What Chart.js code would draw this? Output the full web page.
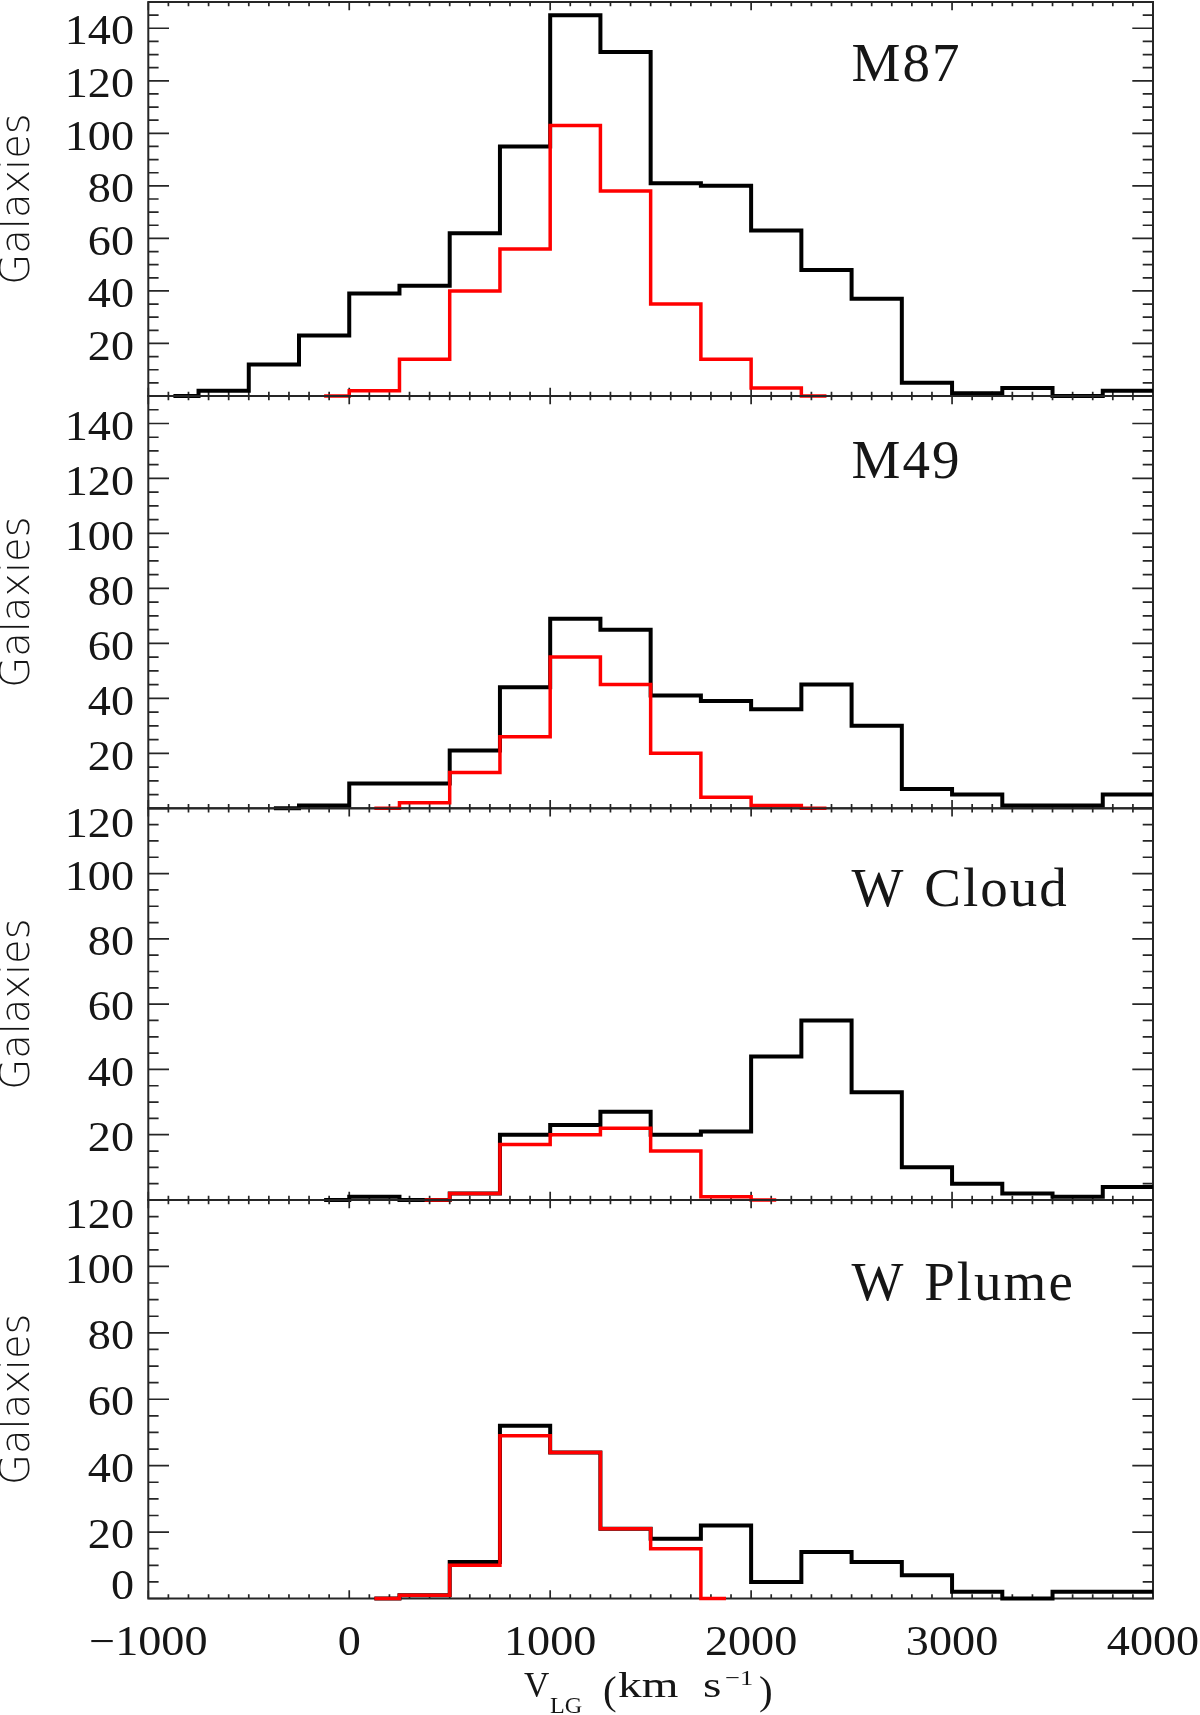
<!DOCTYPE html>
<html>
<head>
<meta charset="utf-8">
<script src="https://cdn.jsdelivr.net/npm/chart.js@4.4.1/dist/chart.umd.min.js"></script>
<style>
  html, body { margin: 0; padding: 0; background: #ffffff; }
  #wrap { position: relative; width: 1200px; height: 1715px; overflow: hidden; background: #ffffff; }
  #wrap canvas { position: absolute; left: 0; top: 0; }
</style>
</head>
<body>
<div id="wrap">
  <canvas id="c1" width="1200" height="1715"></canvas>
  <canvas id="c2" width="1200" height="1715"></canvas>
  <canvas id="c3" width="1200" height="1715"></canvas>
  <canvas id="c4" width="1200" height="1715"></canvas>
</div>
<script>
// ---------------- DATA ----------------
// histogram bin centres (km/s), bin width 250
const binCenters = [-875, -625, -375, -125, 125, 375, 625, 875, 1125, 1375, 1625, 1875, 2125, 2375, 2625, 2875, 3125, 3375, 3625, 3875, 4125];

// black = all galaxies, red = subsample
const m87All    = [0, 2, 12, 23, 39, 42, 62, 95, 145, 131, 81, 80, 63, 48, 37, 5, 1, 3, 0, 2, 2];
const m87Sub    = [null, null, null, 0, 2, 14, 40, 56, 103, 78, 35, 14, 3, 0, null, null, null, null, null, null, null];

const m49All    = [null, null, 0, 1, 9, 9, 21, 44, 69, 65, 41, 39, 36, 45, 30, 7, 5, 1, 1, 5, 5];
const m49Sub    = [null, null, null, null, 0, 2, 13, 26, 55, 45, 20, 4, 1, 0, null, null, null, null, null, null, null];

const wCloudAll = [null, null, null, 0, 1, 0, 2, 20, 23, 27, 20, 21, 44, 55, 33, 10, 5, 2, 1, 4, 4];
const wCloudSub = [null, null, null, null, null, 0, 2, 17, 20, 22, 15, 1, 0, null, null, null, null, null, null, null, null];

const wPlumeAll = [null, null, null, null, 0, 1, 11, 52, 44, 21, 18, 22, 5, 14, 11, 7, 2, 0, 2, 2, 2];
const wPlumeSub = [null, null, null, null, 0, 1, 10, 49, 44, 21, 15, 0, null, null, null, null, null, null, null, null, null];

const panelNames = ['M87', 'M49', 'W Cloud', 'W Plume'];

// tick labels
const xTickLabels = [-1000, 0, 1000, 2000, 3000, 4000];
const yTickLabels150 = [20, 40, 60, 80, 100, 120, 140];
const yTickLabels120 = [20, 40, 60, 80, 100, 120];
const yTickLabels120Zero = [0, 20, 40, 60, 80, 100, 120];

const yAxisTitle = 'Galaxies';

// ---------------- STYLE / LAYOUT ----------------
const W = 1200, H = 1715;
const PLOT_LEFT = 148.3, PLOT_RIGHT = 1153;
const X_MIN = -1000, X_MAX = 4000, X_MAJOR = 1000, X_MINOR = 100;
const Y_MAJOR = 20, Y_MINOR = 5;
const AXIS_COLOR = '#262626';
const TEXT_COLOR = '#161616';
const SERIF = '"Liberation Serif", "DejaVu Serif", serif';
const DIGIT_H = 28.4;

const panels = [
  { id: 'c1', top: 2,     bottom: 396,    ymax: 150, yLabels: yTickLabels150,     all: m87All,    sub: m87Sub,    name: panelNames[0], nameAt: [2500, 120] },
  { id: 'c2', top: 396,   bottom: 808.3,  ymax: 150, yLabels: yTickLabels150,     all: m49All,    sub: m49Sub,    name: panelNames[1], nameAt: [2500, 120] },
  { id: 'c3', top: 808.3, bottom: 1200,   ymax: 120, yLabels: yTickLabels120,     all: wCloudAll, sub: wCloudSub, name: panelNames[2], nameAt: [2500, 90] },
  { id: 'c4', top: 1200,  bottom: 1598.5, ymax: 120, yLabels: yTickLabels120Zero, all: wPlumeAll, sub: wPlumeSub, name: panelNames[3], nameAt: [2500, 90], xLabels: true }
];

function fmtX(v) { return v < 0 ? '\u2212' + String(-v) : String(v); }

function stretchedText(ctx, text, x, y, sx, align) {
  ctx.save();
  ctx.translate(x, y);
  ctx.scale(sx, 1);
  ctx.textAlign = align;
  ctx.fillText(text, 0, 0);
  ctx.restore();
}

function makeAxesPlugin(cfg) {
  return {
    id: 'idlAxes',
    beforeDatasetsDraw(chart) {
      const ctx = chart.ctx;
      const a = chart.chartArea;
      const xs = chart.scales.x, ys = chart.scales.y;
      ctx.save();
      // ticks (inward, IDL style)
      ctx.strokeStyle = AXIS_COLOR;
      ctx.lineWidth = 1.7;
      ctx.lineCap = 'butt';
      ctx.beginPath();
      for (let v = X_MIN; v <= X_MAX; v += X_MINOR) {
        const px = xs.getPixelForValue(v);
        const len = (Math.abs(v) % X_MAJOR === 0) ? 8.3 : 4.2;
        ctx.moveTo(px, a.bottom); ctx.lineTo(px, a.bottom - len);
        ctx.moveTo(px, a.top);    ctx.lineTo(px, a.top + len);
      }
      for (let v = 0; v <= cfg.ymax; v += Y_MINOR) {
        const py = ys.getPixelForValue(v);
        const len = (v % Y_MAJOR === 0) ? 20.7 : 10.3;
        ctx.moveTo(a.left, py);  ctx.lineTo(a.left + len, py);
        ctx.moveTo(a.right, py); ctx.lineTo(a.right - len, py);
      }
      ctx.stroke();
      // frame
      ctx.lineWidth = 2;
      ctx.strokeRect(a.left, a.top, a.right - a.left, a.bottom - a.top);

      // y tick labels
      ctx.fillStyle = TEXT_COLOR;
      ctx.font = '42px ' + SERIF;
      ctx.textBaseline = 'alphabetic';
      for (const v of cfg.yLabels) {
        let base = ys.getPixelForValue(v) + DIGIT_H / 2 + 2;
        base = Math.min(Math.max(base, a.top + DIGIT_H), a.bottom);
        stretchedText(ctx, String(v), 134, base, 1.1, 'right');
      }

      // y axis title
      ctx.save();
      ctx.font = '200 40px "DejaVu Sans ExtraLight", "DejaVu Sans", sans-serif';
      ctx.translate(29, (a.top + a.bottom) / 2);
      ctx.rotate(-Math.PI / 2);
      ctx.textAlign = 'center';
      ctx.fillText(yAxisTitle, 0, 0);
      ctx.restore();

      // panel name
      ctx.save();
      ctx.font = '55px ' + SERIF;
      try { ctx.wordSpacing = '3px'; ctx.letterSpacing = '2px'; } catch (e) {}
      ctx.textAlign = 'left';
      ctx.fillText(cfg.name, xs.getPixelForValue(cfg.nameAt[0]), ys.getPixelForValue(cfg.nameAt[1]));
      ctx.restore();

      if (cfg.xLabels) {
        ctx.font = '42px ' + SERIF;
        for (const v of xTickLabels) {
          stretchedText(ctx, fmtX(v), xs.getPixelForValue(v), 1655, 1.1, 'center');
        }
        // x axis title: V_LG (km s^-1)
        ctx.textAlign = 'left';
        ctx.font = '35px ' + SERIF;
        stretchedText(ctx, 'V', 524, 1697, 1.0, 'left');
        ctx.font = '23px ' + SERIF;
        stretchedText(ctx, 'LG', 550, 1713, 1.05, 'left');
        ctx.font = '41px ' + SERIF;
        stretchedText(ctx, '(', 603, 1704, 1.0, 'left');
        ctx.font = '35px ' + SERIF;
        stretchedText(ctx, 'km', 618, 1697, 1.35, 'left');
        stretchedText(ctx, 's', 703, 1697, 1.35, 'left');
        ctx.font = '22px ' + SERIF;
        stretchedText(ctx, '\u22121', 725, 1685, 1.2, 'left');
        ctx.font = '41px ' + SERIF;
        stretchedText(ctx, ')', 759, 1704, 1.0, 'left');
      }
      ctx.restore();
    }
  };
}

function toPoints(vals) {
  return binCenters.map((x, i) => ({ x: x, y: vals[i] }));
}

for (const cfg of panels) {
  const el = document.getElementById(cfg.id);
  new Chart(el.getContext('2d'), {
    type: 'line',
    data: {
      datasets: [
        {
          label: 'All',
          data: toPoints(cfg.all),
          borderColor: '#000000',
          borderWidth: 4,
          stepped: 'middle',
          pointRadius: 0,
          fill: false,
          spanGaps: false,
          borderJoinStyle: 'miter',
          order: 2,
          clip: { left: 4, right: 0, top: 4, bottom: 4 }
        },
        {
          label: 'Subsample',
          data: toPoints(cfg.sub),
          borderColor: '#ff0000',
          borderWidth: 3.5,
          stepped: 'middle',
          pointRadius: 0,
          fill: false,
          spanGaps: false,
          borderJoinStyle: 'miter',
          order: 1,
          clip: { left: 4, right: 0, top: 4, bottom: 4 }
        }
      ]
    },
    options: {
      responsive: false,
      maintainAspectRatio: false,
      devicePixelRatio: 1,
      animation: false,
      events: [],
      layout: {
        padding: { left: PLOT_LEFT, right: W - PLOT_RIGHT, top: cfg.top, bottom: H - cfg.bottom }
      },
      scales: {
        x: { type: 'linear', min: X_MIN, max: X_MAX, display: false },
        y: { type: 'linear', min: 0, max: cfg.ymax, display: false }
      },
      plugins: {
        legend: { display: false },
        tooltip: { enabled: false },
        title: { display: false }
      }
    },
    plugins: [makeAxesPlugin(cfg)]
  });
}
</script>
</body>
</html>
